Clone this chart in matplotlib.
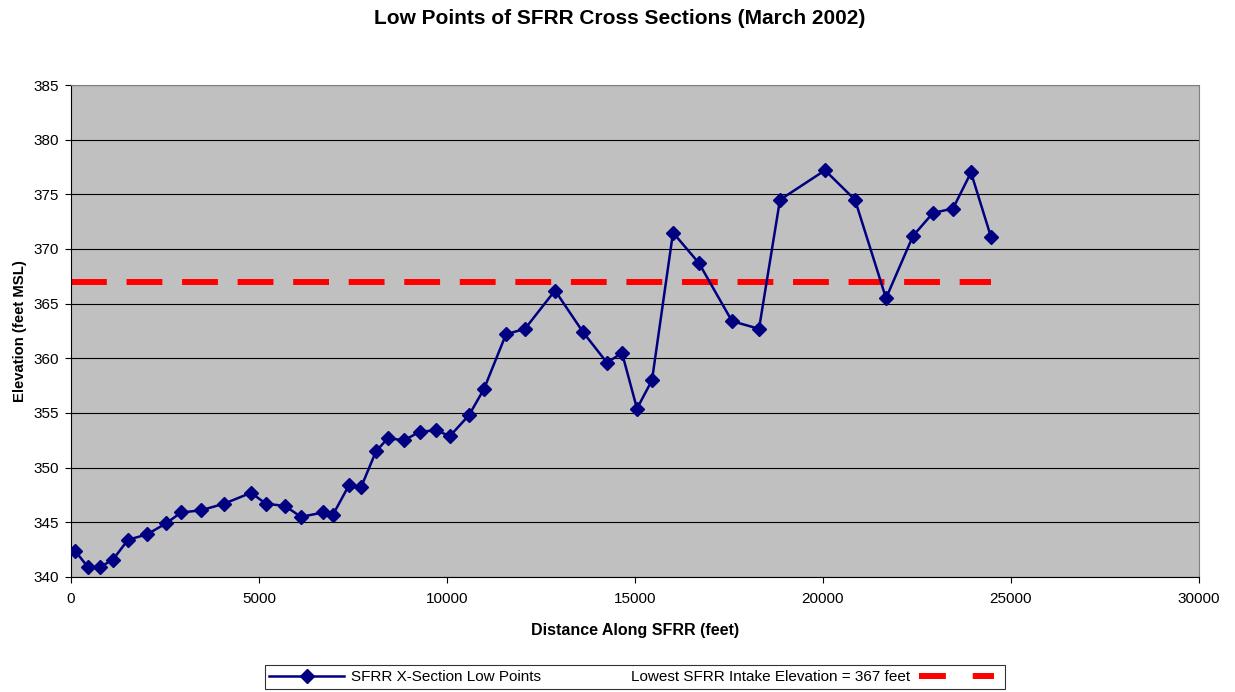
import matplotlib.pyplot as plt
from matplotlib.lines import Line2D

plt.rcParams["font.family"] = ["Liberation Sans", "DejaVu Sans"]

# Cross-section low points
distance_ft = [106, 452, 771, 1117, 1516, 2021, 2527, 2926, 3457, 4069,
               4787, 5186, 5691, 6117, 6702, 6968, 7394, 7713, 8112, 8431,
               8856, 9282, 9707, 10080, 10585, 10984, 11569, 12074, 12872, 13617,
               14255, 14654, 15053, 15452, 16011, 16702, 17580, 18298, 18856, 20053,
               20851, 21676, 22394, 22926, 23457, 23936, 24468]
elevation_ft = [342.4, 340.9, 340.9, 341.6, 343.4, 343.9, 344.9, 345.9, 346.1, 346.7,
                347.7, 346.7, 346.5, 345.5, 345.9, 345.7, 348.4, 348.2, 351.5, 352.7,
                352.5, 353.3, 353.4, 352.9, 354.8, 357.2, 362.2, 362.7, 366.2, 362.4,
                359.6, 360.5, 355.4, 358.0, 371.5, 368.7, 363.4, 362.7, 374.5, 377.2,
                374.5, 365.5, 371.2, 373.3, 373.7, 377.0, 371.1]

intake_x = [0, 24468]
intake_elev = [367, 367]

fig = plt.figure(figsize=(12.35, 6.92), dpi=100)
ax = fig.add_axes([71 / 1235, 1 - 577 / 692, 1128 / 1235, 492 / 692])
ax.set_facecolor("#c0c0c0")

ax.plot(intake_x, intake_elev, color="#ff0000", linewidth=4.3,
        dashes=(6, 3.3), zorder=2)
ax.plot(distance_ft, elevation_ft, color="#000080", linewidth=1.8,
        marker="D", markersize=7.5, zorder=3)

ax.set_xlim(0, 30000)
ax.set_ylim(340, 385)
ax.set_xticks(range(0, 30001, 5000))
ax.set_yticks(range(340, 386, 5))
ax.grid(axis="y", color="black", linewidth=0.8)
ax.set_axisbelow(True)
ax.tick_params(direction="out", length=4, labelsize=11, colors="black")
ax.tick_params(axis="x", pad=7)
ax.tick_params(axis="y", pad=5)
for side in ["top", "right"]:
    ax.spines[side].set_color("#808080")
for side in ["left", "bottom"]:
    ax.spines[side].set_color("black")

ax.set_xlabel("Distance Along SFRR (feet)", fontsize=11.5, fontweight="bold", labelpad=12)
ax.set_ylabel("Elevation (feet MSL)", fontsize=10.7, fontweight="bold", labelpad=4)
fig.suptitle("Low Points of SFRR Cross Sections (March 2002)", fontsize=15,
             fontweight="bold", x=620 / 1235, y=1 - 19 / 692, va="center")

handles = [
    Line2D([], [], color="#000080", linewidth=1.8, marker="D", markersize=7.5),
    Line2D([], [], color="none"),
    Line2D([], [], color="#ff0000", linewidth=4.3, dashes=(4.5, 4.5)),
]
labels = ["SFRR X-Section Low Points", "Lowest SFRR Intake Elevation = 367 feet", ""]
leg = fig.legend(handles, labels, loc="center", ncol=3,
                 bbox_to_anchor=(635 / 1235, 1 - 677 / 692),
                 fontsize=11, handlelength=4.9, handletextpad=0.45,
                 columnspacing=0.55, frameon=True, fancybox=False,
                 borderpad=0.3)
leg.get_frame().set_edgecolor("black")
leg.get_frame().set_linewidth(0.8)

fig.savefig("out.png", dpi=100, facecolor="white")
